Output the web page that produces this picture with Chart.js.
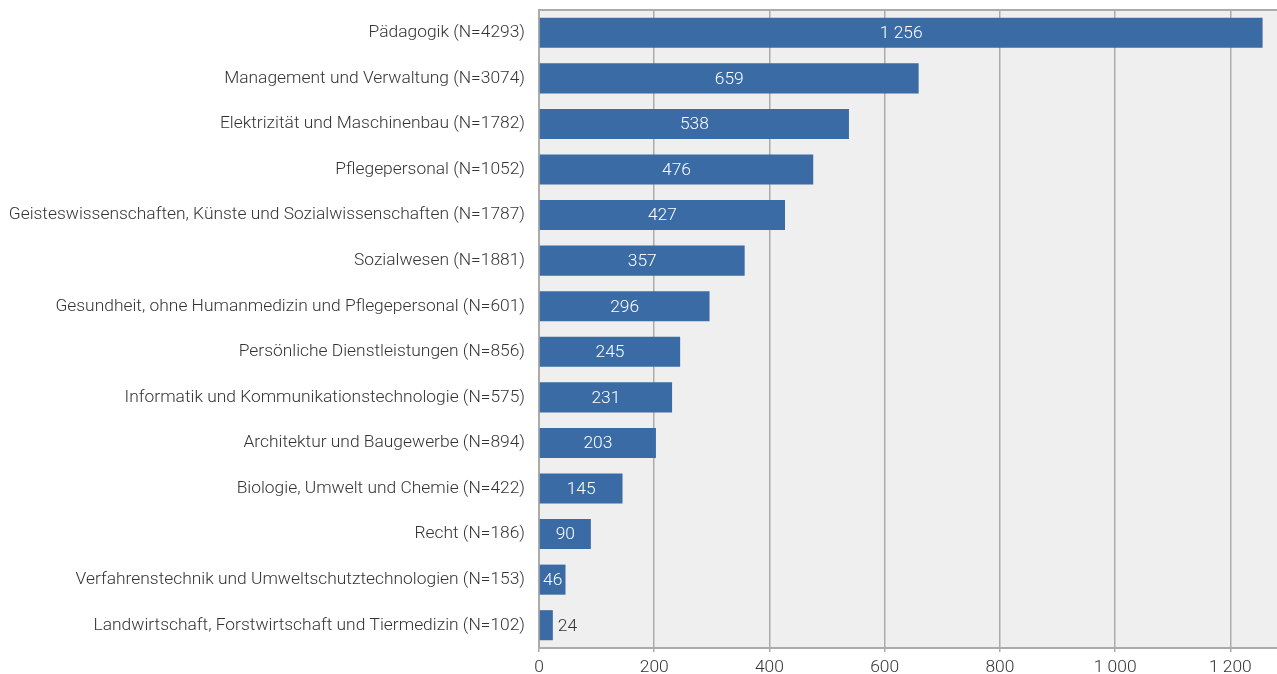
<!DOCTYPE html>
<html>
<head>
<meta charset="utf-8">
<script src="https://cdn.jsdelivr.net/npm/chart.js@4.4.1/dist/chart.umd.min.js"></script>
<style>
  html, body { margin: 0; padding: 0; background: #fff; }
  #wrap { width: 1277px; height: 674px; position: relative; }
</style>
</head>
<body>
<div id="wrap"><canvas id="chart"></canvas></div>
<script>
// ===============================
// DATA
// ===============================
const categories = [
    "Pädagogik (N=4293)",
    "Management und Verwaltung (N=3074)",
    "Elektrizität und Maschinenbau (N=1782)",
    "Pflegepersonal (N=1052)",
    "Geisteswissenschaften, Künste und Sozialwissenschaften (N=1787)",
    "Sozialwesen (N=1881)",
    "Gesundheit, ohne Humanmedizin und Pflegepersonal (N=601)",
    "Persönliche Dienstleistungen (N=856)",
    "Informatik und Kommunikationstechnologie (N=575)",
    "Architektur und Baugewerbe (N=894)",
    "Biologie, Umwelt und Chemie (N=422)",
    "Recht (N=186)",
    "Verfahrenstechnik und Umweltschutztechnologien (N=153)",
    "Landwirtschaft, Forstwirtschaft und Tiermedizin (N=102)"
];
const values = [1256, 659, 538, 476, 427, 357, 296, 245, 231, 203, 145, 90, 46, 24];
const xTicks = [0, 200, 400, 600, 800, 1000, 1200];

const FONT = "Roboto";
const FSIZE = 17.4;
const TEXT = "#333333";
const GRID = "#ababab";

function fmt(n) {
    return String(n).replace(/\B(?=(\d{3})+(?!\d))/g, " ");
}

// background + top border of plot area
const plotBg = {
    id: "plotBg",
    beforeDraw(chart) {
        const { ctx, chartArea: a } = chart;
        ctx.save();
        ctx.fillStyle = "#efefef";
        ctx.fillRect(a.left, a.top, a.right - a.left, a.bottom - a.top);
        ctx.strokeStyle = GRID;
        ctx.lineWidth = 2;
        ctx.beginPath();
        ctx.moveTo(a.left, a.top);
        ctx.lineTo(a.right, a.top);
        ctx.stroke();
        ctx.restore();
    }
};

// value labels
const valueLabels = {
    id: "valueLabels",
    afterDatasetsDraw(chart) {
        const { ctx } = chart;
        const meta = chart.getDatasetMeta(0);
        ctx.save();
        ctx.font = `300 ${FSIZE}px ${FONT}`;
        ctx.textBaseline = "middle";
        meta.data.forEach((bar, i) => {
            const txt = fmt(values[i]);
            const w = ctx.measureText(txt).width;
            const barW = bar.x - bar.base;
            if (barW > w + 6) {
                ctx.fillStyle = "#ffffff";
                ctx.textAlign = "center";
                ctx.fillText(txt, bar.base + barW / 2, bar.y + 1);
            } else {
                ctx.fillStyle = TEXT;
                ctx.textAlign = "left";
                ctx.fillText(txt, bar.x + 5, bar.y + 1);
            }
        });
        ctx.restore();
    }
};

new Chart(document.getElementById("chart"), {
    type: "bar",
    data: {
        labels: categories,
        datasets: [{
            data: values,
            backgroundColor: "#3a6ba5",
            borderWidth: 0,
            barPercentage: 0.66,
            categoryPercentage: 1
        }]
    },
    options: {
        indexAxis: "y",
        responsive: true,
        maintainAspectRatio: false,
        animation: false,
        layout: { padding: { top: 10, right: 0, left: 0, bottom: 0 } },
        plugins: {
            legend: { display: false },
            tooltip: { enabled: false }
        },
        scales: {
            x: {
                min: 0,
                max: 1281,
                afterBuildTicks(scale) {
                    scale.ticks = xTicks.map(v => ({ value: v }));
                },
                afterFit(scale) {
                    scale.height = 26;
                },
                ticks: {
                    color: TEXT,
                    font: { family: FONT, size: FSIZE, weight: 300 },
                    padding: 5,
                    callback: v => fmt(v)
                },
                grid: {
                    color: GRID,
                    lineWidth: 1.5,
                    tickLength: 4,
                    drawOnChartArea: true
                },
                border: { color: GRID, width: 2 }
            },
            y: {
                afterFit(scale) {
                    scale.width = 539;
                    scale.paddingTop = 0;
                    scale.paddingBottom = 0;
                },
                ticks: {
                    color: TEXT,
                    font: { family: FONT, size: FSIZE, weight: 300 },
                    padding: 14
                },
                grid: { display: false, drawTicks: false },
                border: { color: GRID, width: 2 }
            }
        }
    },
    plugins: [plotBg, valueLabels]
});
</script>
</body>
</html>
